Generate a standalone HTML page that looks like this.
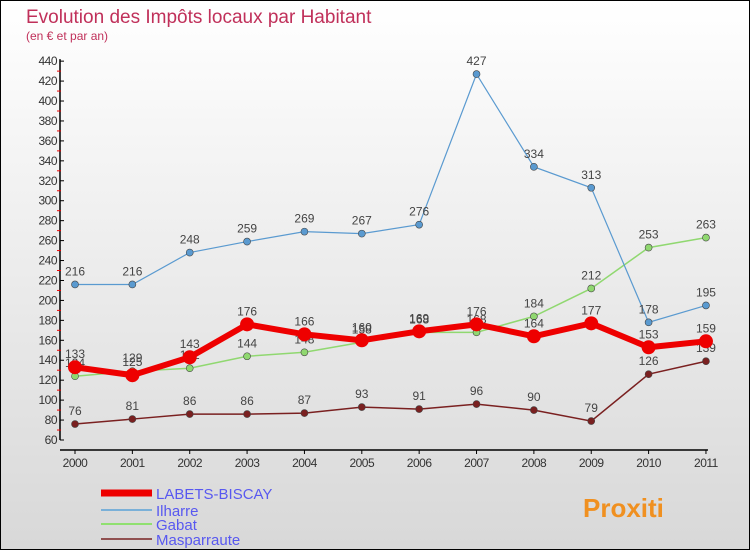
<!DOCTYPE html>
<html><head><meta charset="utf-8"><style>
body{margin:0}
#c{width:748px;height:548px;border:1px solid #000;background:linear-gradient(#fff,#d8d8d8);position:relative;font-family:"Liberation Sans",sans-serif}
</style></head><body>
<div id="c">
<svg id="s" width="748" height="548"></svg>
</div>
<script>
const years=["2000","2001","2002","2003","2004","2005","2006","2007","2008","2009","2010","2011"];
const labets=[133,125,143,176,166,160,169,176,164,177,153,159];
const ilharre=[216,216,248,259,269,267,276,427,334,313,178,195];
const gabat=[124,129,132,144,148,158,168,168,184,212,253,263];
const mas=[76,81,86,86,87,93,91,96,90,79,126,139];
const yTicks=[60,80,100,120,140,160,180,200,220,240,260,280,300,320,340,360,380,400,420,440];
const NS="http://www.w3.org/2000/svg",s=document.getElementById('s');
const X=i=>74+i*57.36, Y=v=>439-(v-60)*0.997;
function el(t,a,txt){const e=document.createElementNS(NS,t);for(const k in a)e.setAttribute(k,a[k]);if(txt!=null)e.textContent=txt;s.appendChild(e);return e;}
let e=el('text',{x:25,y:22,fill:'#c0305a','font-size':19},'Evolution des Impôts locaux par Habitant');

e=el('text',{x:25,y:39,fill:'#c0305a','font-size':12},'(en € et par an)');

e=el('line',{x1:59,y1:Y(440)-2,x2:59,y2:Y(60),stroke:'#000','stroke-width':1.5});

e=el('line',{x1:59,y1:449,x2:X(11)+2,y2:449,stroke:'#000','stroke-width':1.5});

yTicks.forEach((v,i)=>{
 el('line',{x1:59,y1:Y(v),x2:63,y2:Y(v),stroke:'#000'});
 if(i<yTicks.length-1)el('line',{x1:56,y1:Y(v+10),x2:60,y2:Y(v+10),stroke:'#e00'});
 e=el('text',{x:56,y:Y(v)+4,'text-anchor':'end','font-size':12,fill:'#333','letter-spacing':'-0.5'},v);
 
});
years.forEach((y,i)=>{
 el('line',{x1:X(i),y1:449,x2:X(i),y2:453,stroke:'#000'});
 e=el('text',{x:X(i),y:466,'text-anchor':'middle','font-size':12,fill:'#333','letter-spacing':'-0.5'},y);
 
});
function series(d,col,w,r,name,labels){
 e=el('polyline',{points:d.map((v,i)=>X(i)+','+Y(v)).join(' '),fill:'none',stroke:col,'stroke-width':w});
 
 d.forEach((v,i)=>{
  e=el('circle',{cx:X(i),cy:Y(v),r:r,fill:col,stroke:'#444','stroke-width':r>5?0:0.6});
  
  e=el('text',{x:X(i),y:Y(v)-9,'text-anchor':'middle','font-size':12,fill:'#444'},v);
  
 });
}
series(mas,'#7a2020',1.5,3.5,'masparraute');
series(gabat,'#90d870',1.5,3.5,'gabat');
series(ilharre,'#5a9ad0',1.2,3.5,'ilharre');
series(labets,'#ee0000',6,7,'labets-biscay');
const leg=[['LABETS-BISCAY','#ee0000',7,492],['Ilharre','#7ab0d8',2,509],['Gabat','#90e070',2,523],['Masparraute','#905050',2,538]];
leg.forEach(l=>{
 e=el('line',{x1:100,y1:l[3],x2:151,y2:l[3],stroke:l[1],'stroke-width':l[2]});
 
 e=el('text',{x:155,y:l[3]+6,'font-size':15,fill:'#5858f0'},l[0]);
 
});
e=el('text',{x:582,y:516,'font-size':26,'font-weight':'bold',fill:'#f09020'},'Proxiti');

</script>
</body></html>
